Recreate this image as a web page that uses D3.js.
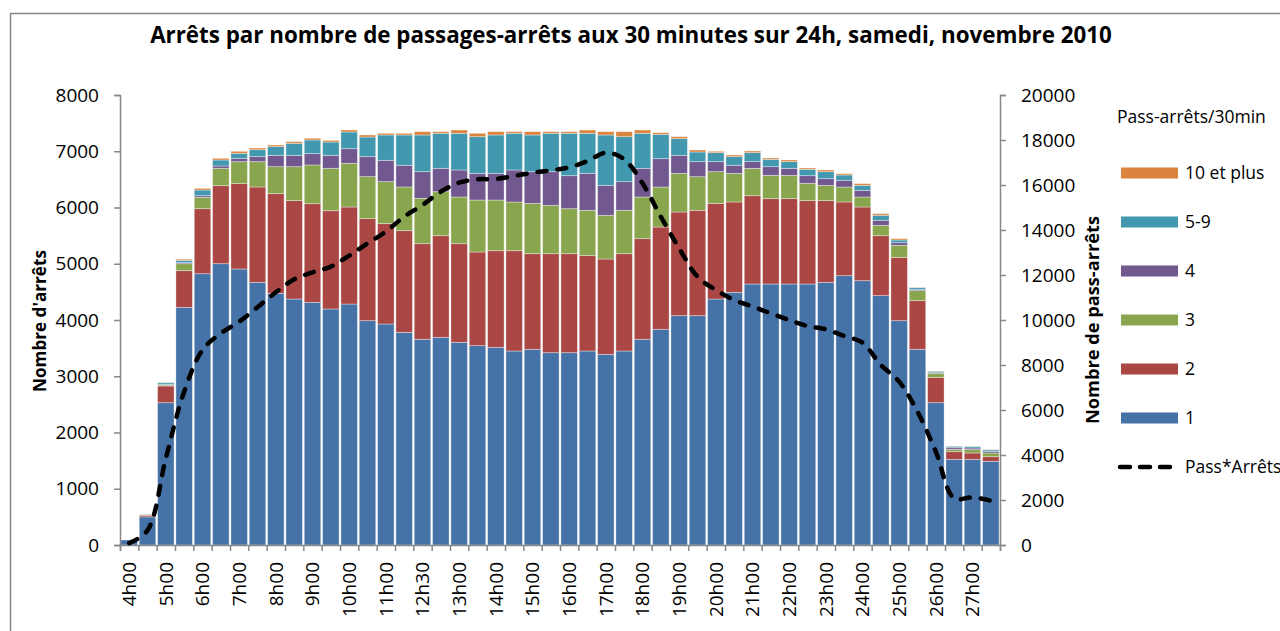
<!DOCTYPE html>
<html>
<head>
<meta charset="utf-8">
<script src="https://cdn.jsdelivr.net/npm/d3@7/dist/d3.min.js"></script>
<style>
  body { margin: 0; background: #fff; }
  text { font-family: "Open Sans", sans-serif; fill: #000; }
</style>
</head>
<body>
<svg width="1280" height="631"></svg>
<script>
// categories (half hours); the source labels 12h00 as "12h30"
var heures = ["4h00","4h30","5h00","5h30","6h00","6h30","7h00","7h30","8h00","8h30",
  "9h00","9h30","10h00","10h30","11h00","11h30","12h30","12h30","13h00","13h30",
  "14h00","14h30","15h00","15h30","16h00","16h30","17h00","17h30","18h00","18h30",
  "19h00","19h30","20h00","20h30","21h00","21h30","22h00","22h30","23h00","23h30",
  "24h00","24h30","25h00","25h30","26h00","26h30","27h00","27h30"];

// stops by number of passages per 30 min
var s1 = [90,500,2530,4225,4823,5001,4907,4670,4474,4373,4314,4196,4284,3988,3929,3781,
  3657,3692,3603,3544,3514,3449,3479,3419,3419,3449,3390,3449,3657,3835,4077,4077,
  4373,4492,4640,4640,4640,4640,4670,4788,4699,4433,3988,3479,2530,1523,1523,1487];
var s2 = [0,30,297,652,1156,1387,1517,1695,1772,1749,1754,1747,1725,1814,1784,1807,
  1700,1807,1754,1665,1718,1783,1700,1760,1760,1695,1694,1730,1789,1818,1843,1873,
  1701,1606,1570,1517,1517,1482,1452,1310,1310,1066,1126,865,451,136,113,83];
var s3 = [0,5,17,124,202,309,391,450,480,604,688,754,777,747,747,777,
  807,782,830,924,901,866,895,860,800,806,777,771,741,711,687,598,
  563,509,486,415,415,308,272,266,178,184,214,178,71,42,59,66];
var s4 = [0,0,10,20,29,41,59,89,201,201,201,230,260,355,379,385,
  473,416,480,474,474,569,563,598,587,657,533,509,509,504,320,267,
  178,143,119,154,124,136,119,119,118,89,47,23,10,29,29,29];
var s5_9 = [0,5,30,40,101,107,89,124,155,214,243,238,297,349,450,539,
  652,622,652,652,682,652,652,682,753,712,895,800,623,433,297,172,
  160,154,160,130,119,113,124,95,89,89,47,30,25,25,26,26];
var s10plus = [0,0,5,20,30,30,36,30,29,29,30,29,35,36,30,30,
  59,29,59,60,59,29,59,29,29,59,59,89,59,29,35,35,
  24,29,29,24,30,23,30,23,30,29,24,6,6,5,5,5];

// total pass*stops (right axis)
var passArrets = [80,650,3850,6815,8667,9407,9926,10570,11230,11807,12119,12370,12859,13407,13926,14593,
  15111,15704,16104,16252,16267,16400,16548,16652,16785,17066,17436,17141,16074,14593,13185,11926,
  11333,10889,10600,10296,10000,9733,9585,9289,8993,8000,7259,5926,4148,2074,2119,1970];

var cles = ["1","2","3","4","5-9","10 et plus"];
var couleurs = ["#4572A7","#AA4643","#89A54E","#71588F","#4198AF","#DB843D"];
var ticksGauche = [0,1000,2000,3000,4000,5000,6000,7000,8000];
var ticksDroite = [0,2000,4000,6000,8000,10000,12000,14000,16000,18000,20000];

var svg = d3.select("svg");
var axisColor = "#888";

// frame
svg.append("rect")
  .attr("x", 10.5).attr("y", 13.5)
  .attr("width", 1300).attr("height", 660)
  .attr("fill", "none").attr("stroke", axisColor).attr("stroke-width", 1.5);

var leftMargin = 120, rightEdge = 1000, topY = 95, bottomY = 545;

var x = d3.scaleBand().domain(d3.range(heures.length))
  .range([leftMargin, rightEdge]).paddingInner(0.1).paddingOuter(0.05);
var xEdges = d3.scaleLinear().domain([0, heures.length]).range([leftMargin, rightEdge]);
var yL = d3.scaleLinear().domain([0, 8000]).range([bottomY, topY]);
var yR = d3.scaleLinear().domain([0, 20000]).range([bottomY, topY]);

// stacked data
var series = [s1, s2, s3, s4, s5_9, s10plus];
var rows = heures.map(function (h, i) {
  var r = { idx: i };
  cles.forEach(function (k, j) { r[k] = series[j][i]; });
  return r;
});
var stacked = d3.stack().keys(cles)(rows);

svg.append("g").selectAll("g")
  .data(stacked)
  .enter().append("g")
  .attr("fill", function (d, j) { return couleurs[j]; })
  .selectAll("rect")
  .data(function (d) { return d; })
  .enter().append("rect")
  .attr("x", function (d) { return x(d.data.idx); })
  .attr("width", x.bandwidth())
  .attr("y", function (d) { return yL(d[1]); })
  .attr("height", function (d) { return Math.max(0, yL(d[0]) - yL(d[1])); })
  .attr("stroke", "rgba(255,255,255,0.45)")
  .attr("stroke-width", 0.8);

// axes
function styleAxis(g) {
  g.select(".domain").attr("stroke", axisColor).attr("stroke-width", 1.5);
  g.selectAll(".tick line").attr("stroke", axisColor).attr("stroke-width", 1.5);
  g.selectAll("text").style("font-size", "19px").attr("fill", "#000");
}

svg.append("g")
  .attr("transform", "translate(" + leftMargin + ",0)")
  .call(d3.axisLeft(yL).tickValues(ticksGauche).tickSize(6).tickSizeOuter(6).tickPadding(15).tickFormat(d3.format("d")))
  .call(styleAxis);

svg.append("g")
  .attr("transform", "translate(" + rightEdge + ",0)")
  .call(d3.axisRight(yR).tickValues(ticksDroite).tickSize(6).tickSizeOuter(6).tickPadding(15).tickFormat(d3.format("d")))
  .call(styleAxis);

// x ticks at every category boundary
svg.append("g")
  .attr("transform", "translate(0," + bottomY + ")")
  .call(d3.axisBottom(xEdges).tickValues(d3.range(heures.length + 1)).tickSize(6).tickFormat(""))
  .call(styleAxis);

// x labels every hour
var xLab = svg.append("g")
  .attr("transform", "translate(0," + bottomY + ")")
  .call(d3.axisBottom(x).tickValues(d3.range(0, heures.length, 2)).tickSize(0)
    .tickFormat(function (i) { return heures[i]; }));
xLab.select(".domain").remove();
xLab.selectAll("text")
  .style("font-size", "19px")
  .attr("text-anchor", "end")
  .attr("transform", "rotate(-90)")
  .attr("x", -17)
  .attr("y", 0)
  .attr("dy", "0.36em");

// line
var ligne = d3.line()
  .x(function (d, i) { return x(i) + x.bandwidth() / 2; })
  .y(function (d) { return yR(d); })
  .curve(d3.curveCatmullRom.alpha(0.5));

svg.append("path")
  .datum(passArrets)
  .attr("d", ligne)
  .attr("fill", "none")
  .attr("stroke", "#000")
  .attr("stroke-width", 4.5)
  .attr("stroke-linecap", "round")
  .attr("stroke-dasharray", "9,11");

// fit text width helper
function fitWidth(sel, w) {
  var cur = sel.node().getComputedTextLength();
  var fs = parseFloat(sel.style("font-size"));
  sel.style("font-size", (fs * w / cur) + "px");
}

// title
svg.append("text")
  .attr("x", 631).attr("y", 43)
  .attr("text-anchor", "middle")
  .style("font-size", "21px").style("font-weight", "bold")
  .text("Arrêts par nombre de passages-arrêts aux 30 minutes sur 24h, samedi, novembre 2010")
  .call(fitWidth, 962);

// axis titles
svg.append("text")
  .attr("transform", "translate(46,321) rotate(-90)")
  .attr("text-anchor", "middle")
  .style("font-size", "17px").style("font-weight", "bold")
  .text("Nombre d'arrêts")
  .call(fitWidth, 142);

svg.append("text")
  .attr("transform", "translate(1099,320) rotate(-90)")
  .attr("text-anchor", "middle")
  .style("font-size", "17px").style("font-weight", "bold")
  .text("Nombre de pass-arrêts")
  .call(fitWidth, 208);

// legend
var legend = svg.append("g");
legend.append("text")
  .attr("x", 1117).attr("y", 123)
  .style("font-size", "17.5px")
  .text("Pass-arrêts/30min");

var ordre = d3.range(cles.length).reverse();
var items = legend.selectAll("g.item")
  .data(ordre)
  .enter().append("g")
  .attr("class", "item")
  .attr("transform", function (d, k) { return "translate(0," + (173 + k * 49) + ")"; });
items.append("rect")
  .attr("x", 1121).attr("y", -5.5)
  .attr("width", 57).attr("height", 11)
  .attr("fill", function (d) { return couleurs[d]; });
items.append("text")
  .attr("x", 1185).attr("dy", "0.36em")
  .style("font-size", "17.5px")
  .text(function (d) { return cles[d]; });

var itemLigne = legend.append("g").attr("transform", "translate(0," + (173 + 6 * 49) + ")");
itemLigne.append("line")
  .attr("x1", 1120).attr("x2", 1172)
  .attr("stroke", "#000").attr("stroke-width", 4.5)
  .attr("stroke-linecap", "round")
  .attr("stroke-dasharray", "10,10");
itemLigne.append("text")
  .attr("x", 1185).attr("dy", "0.36em")
  .style("font-size", "17.5px")
  .text("Pass*Arrêts");
</script>
</body>
</html>
